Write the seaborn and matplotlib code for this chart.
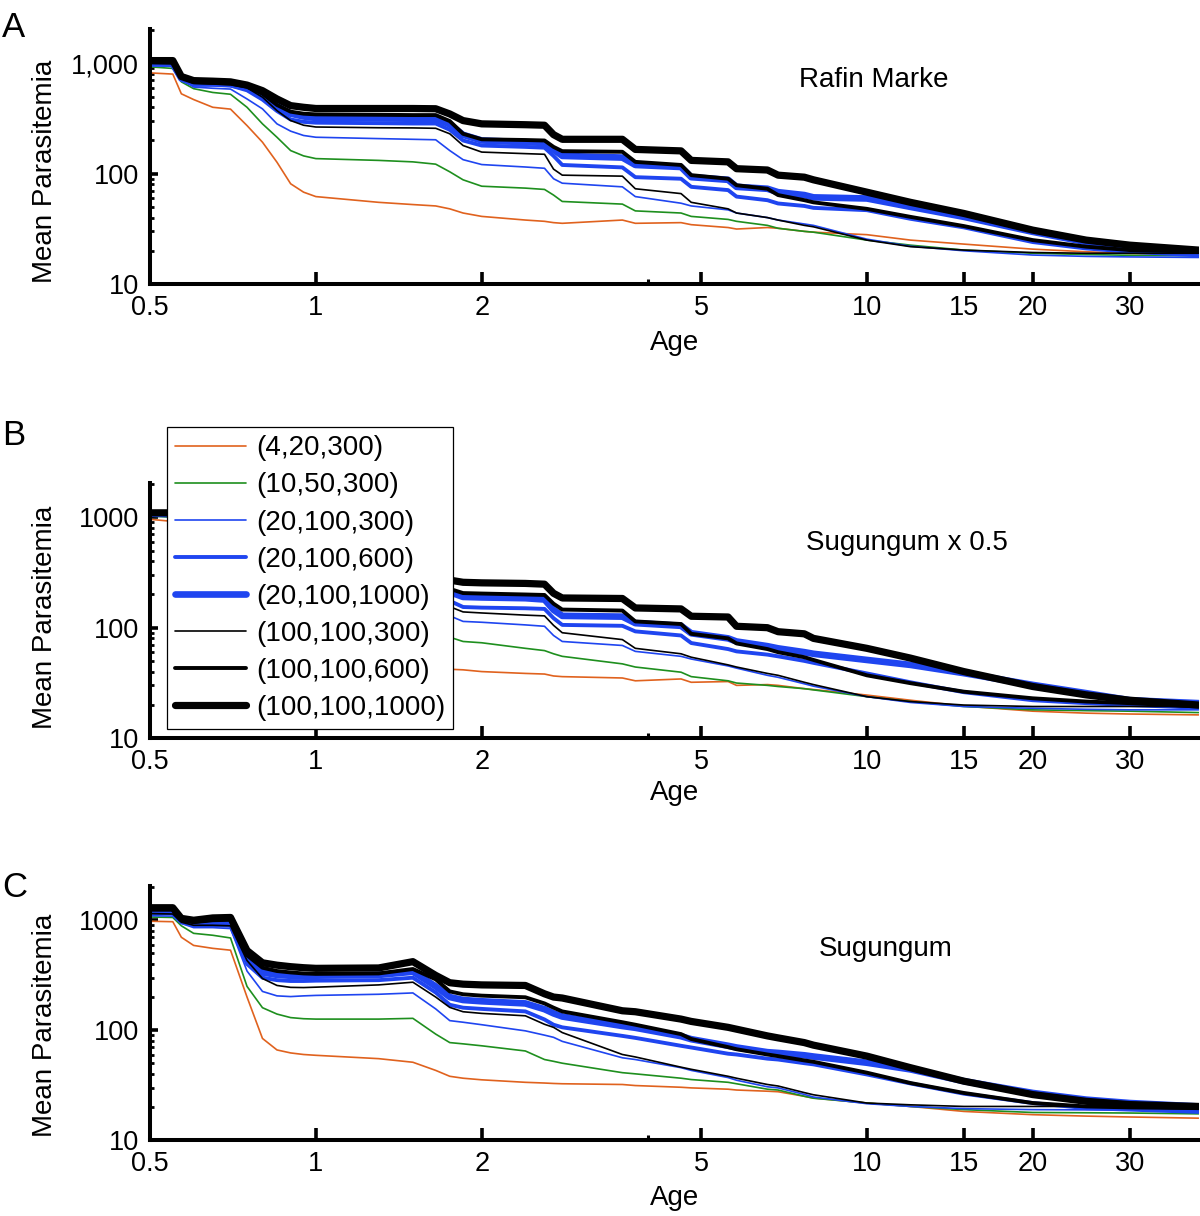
import matplotlib
matplotlib.use("Agg")
import matplotlib.pyplot as plt
from matplotlib.ticker import NullFormatter
import pandas as pd
import seaborn as sns

AGES = [0.50, 0.55, 0.57, 0.60, 0.65, 0.70, 0.75, 0.80, 0.85, 0.90,
        0.95, 1.0, 1.3, 1.5, 1.65, 1.75, 1.85, 2.0, 2.4, 2.6,
        2.7, 2.8, 3.6, 3.8, 4.6, 4.8, 5.6, 5.8, 6.6, 6.9,
        7.7, 8.0, 10, 12, 15, 20, 25, 30, 40]

SETTINGS = ["(4,20,300)", "(10,50,300)", "(20,100,300)", "(20,100,600)",
            "(20,100,1000)", "(100,100,300)", "(100,100,600)", "(100,100,1000)"]
COLORS = ["#e0621e", "#1e8f1e", "#1f45f0", "#1f45f0",
          "#1f45f0", "black", "black", "black"]
WIDTHS = [1.2, 1.2, 1.2, 2.8, 4.8, 1.2, 2.8, 5.2]

XTICKS = [0.5, 1, 2, 5, 10, 15, 20, 30]
XTICK_LABELS = ["0.5", "1", "2", "5", "10", "15", "20", "30"]
YTICKS = [10, 100, 1000]

# Panel A - Rafin Marke
A_4_20_300 = [820, 800, 530, 470, 400, 385, 273, 193, 127, 81,
              68, 62, 55, 52.5, 51, 48, 44, 41, 38, 37,
              36, 35.5, 38, 35.5, 36, 34.5, 32.5, 31.5, 32.5, 32,
              30, 29.5, 28, 25, 23, 20.7, 19.6, 18.9, 18.6]
A_10_50_300 = [930, 900, 680, 590, 545, 525, 400, 283, 214, 162,
               145, 137, 132, 128, 122, 104, 88, 77, 74, 72,
               64, 56, 53, 46, 44, 41, 38.5, 37, 34, 32,
               30, 29.5, 25, 22.5, 20.3, 19, 18.5, 18.2, 18]
A_20_100_300 = [970, 950, 720, 610, 595, 585, 476, 387, 283, 243,
                222, 214, 208, 205, 203, 162, 134, 121, 115, 112,
                90, 82, 76, 62, 54, 51, 47, 44, 40, 38,
                35, 34, 25.5, 22, 20, 18.3, 17.8, 17.6, 17.4]
A_20_100_600 = [980, 970, 720, 640, 640, 630, 570, 470, 370, 310,
                295, 290, 287, 285, 285, 250, 200, 180, 175, 172,
                145, 120, 114, 93, 90, 76, 71, 62, 57.5, 53.7,
                51, 49, 46.7, 39, 32.6, 24, 21, 19.6, 18.2]
A_20_100_1000 = [1000, 990, 730, 660, 660, 650, 600, 520, 410, 350,
                 330, 320, 317, 315, 315, 280, 225, 200, 193, 190,
                 165, 145, 140, 120, 115, 93, 88, 76, 73, 68,
                 64, 61, 59.6, 50, 40.6, 29.7, 24, 21.5, 19.6]
A_100_100_300 = [1000, 990, 740, 660, 650, 640, 600, 494, 373, 303,
                 275, 265, 261, 260, 258, 230, 180, 157, 152, 150,
                 110, 97, 95, 73, 66, 55, 48, 44, 40, 38,
                 34, 33, 25, 21.8, 20.3, 19.3, 19, 19, 19]
A_100_100_600 = [1050, 1040, 750, 680, 680, 670, 620, 530, 420, 365,
                 350, 345, 342, 340, 340, 300, 230, 205, 202, 200,
                 175, 160, 158, 128, 120, 97, 90, 78.6, 73, 64,
                 57.5, 55, 48, 40.6, 33.5, 25, 21.8, 20.3, 19.6]
A_100_100_1000 = [1060, 1060, 760, 698, 690, 680, 636, 566, 476, 414,
                  400, 390, 390, 390, 388, 348, 303, 283, 278, 275,
                  226, 205, 205, 166, 161, 132, 128, 111, 108, 97,
                  93, 88, 68, 55, 43.6, 30.8, 25, 22.5, 20.3]

# Panel B - Sugungum x 0.5
B_4_20_300 = [960, 920, 600, 500, 480, 470, 200, 70, 52, 48,
              47, 46, 45, 44, 43, 42, 41.5, 40, 38.5, 38,
              36.5, 36, 35, 33, 34.3, 32, 32.5, 30, 30.5, 30,
              28, 27.5, 24.5, 22, 19.5, 17.5, 16.8, 16.5, 16.2]
B_10_50_300 = [1030, 1000, 780, 720, 730, 720, 380, 170, 120, 105,
               100, 98, 96, 98, 90, 82, 75, 73, 65, 62,
               58, 55, 47, 44, 39.5, 36, 33, 31.5, 30, 29.3,
               28, 27.3, 23.7, 21.4, 19.3, 18, 17.7, 17.5, 17]
B_20_100_300 = [1060, 1030, 820, 770, 780, 770, 450, 250, 190, 170,
                162, 158, 155, 158, 148, 128, 114, 112, 106, 103,
                85, 75, 69, 61, 55, 52, 45, 43, 37, 35.5,
                31, 29.5, 23.7, 21, 19.3, 18.6, 18.2, 18, 18]
B_20_100_600 = [1070, 1050, 840, 790, 800, 790, 500, 320, 260, 235,
                225, 220, 215, 218, 205, 175, 154, 152, 150, 148,
                122, 106, 104, 92.6, 85, 72.6, 64, 61, 57, 55,
                50, 48, 38.5, 32, 26, 22, 20.7, 19.9, 18.8]
B_20_100_1000 = [1080, 1070, 860, 810, 820, 810, 540, 360, 300, 270,
                 260, 255, 250, 252, 240, 210, 190, 188, 185, 180,
                 145, 128, 126, 110, 104, 89, 80, 75, 68, 65,
                 60, 58, 51, 46, 38.7, 30.3, 25.5, 22, 20.7]
B_100_100_300 = [1070, 1060, 850, 800, 810, 800, 500, 300, 240, 210,
                 200, 195, 190, 195, 180, 155, 139, 136, 130, 128,
                 105, 90, 78, 65, 58, 54, 46, 44, 38.5, 37,
                 32, 30.5, 23.7, 21.4, 19.9, 19.3, 19.3, 19.3, 19.3]
B_100_100_600 = [1090, 1090, 880, 830, 840, 830, 560, 380, 320, 290,
                 280, 275, 270, 272, 260, 225, 206, 204, 200, 198,
                 165, 146, 143, 114, 108, 88, 80, 72, 64, 60,
                 54, 51, 37, 31.4, 26.3, 22.9, 21.4, 20.7, 19.3]
B_100_100_1000 = [1100, 1100, 900, 850, 860, 850, 600, 420, 360, 330,
                  320, 315, 310, 315, 300, 270, 258, 255, 252, 248,
                  205, 186, 184, 151, 148, 127, 125, 103, 100, 92,
                  88, 80, 65, 53, 40, 29.3, 24.6, 22, 19.9]

# Panel C - Sugungum
C_4_20_300 = [980, 970, 700, 590, 555, 534, 200, 84, 66, 62,
              60, 59, 55, 51, 43, 38, 36.5, 35.3, 33.5, 33,
              32.7, 32.5, 32, 31.3, 30.2, 29.8, 29, 28.5, 27.8, 27.5,
              25, 24.1, 21.7, 20.2, 18.2, 17, 16.5, 16.2, 15.8]
C_10_50_300 = [1070, 1060, 890, 760, 730, 690, 250, 160, 140, 130,
               127, 126, 126, 128, 92, 77, 75, 72, 64.6, 54,
               52, 50, 41, 40, 36.5, 35.5, 33.5, 32.5, 29, 28.5,
               25, 24, 21.7, 20.2, 18.9, 17.8, 17.7, 17.6, 17.3]
C_20_100_300 = [1100, 1090, 935, 857, 857, 840, 345, 225, 205, 202,
                205, 207, 212, 218, 156, 122, 118, 112, 98.5, 90,
                86, 79, 56, 54, 45.5, 43, 37, 35, 30.5, 29.8,
                26, 24.6, 21.4, 20.2, 19.3, 18.9, 18.8, 18.7, 18.6]
C_20_100_600 = [1180, 1170, 960, 900, 900, 890, 400, 300, 285, 280,
                280, 282, 285, 300, 220, 170, 160, 156, 148, 125,
                112, 106, 88.6, 85, 72, 69.5, 61, 60, 55, 54,
                50, 48.8, 39.5, 32.7, 26.4, 21.7, 19.5, 18.9, 18]
C_20_100_1000 = [1200, 1190, 1000, 960, 980, 980, 440, 335, 318, 312,
                 312, 313, 318, 340, 250, 200, 188, 183, 175, 155,
                 142, 133, 109, 105, 88, 82.7, 72, 69.5, 63, 62,
                 59, 57.5, 50.5, 43.9, 34.3, 26.8, 23.3, 21.7, 20.2]
C_100_100_300 = [1150, 1140, 960, 900, 900, 890, 430, 295, 255, 245,
                 244, 246, 258, 273, 200, 161, 147, 142, 135, 113,
                 106, 95, 60, 57, 46, 44, 38, 36.5, 32, 31,
                 27, 25.8, 21.7, 20.9, 20.2, 20.2, 20.2, 20.2, 20.2]
C_100_100_600 = [1250, 1250, 1000, 960, 1000, 1010, 480, 370, 345, 335,
                 328, 325, 328, 360, 290, 225, 212, 206, 199, 175,
                 160, 148, 118, 112, 92, 83, 70, 67, 60, 58,
                 53, 51.5, 41, 33, 26.8, 21.7, 20.2, 19.8, 19.5]
C_100_100_1000 = [1300, 1300, 1040, 1000, 1050, 1060, 530, 410, 390, 378,
                  370, 365, 368, 420, 315, 270, 262, 258, 255, 214,
                  200, 196, 150, 147, 126, 120, 106, 102, 88.6, 85,
                  77, 73, 58, 45.5, 34.3, 25.9, 22.5, 21, 20.2]


def panel_frame(series):
    parts = []
    for label, values in zip(SETTINGS, series):
        parts.append(pd.DataFrame({"Age": AGES, "Mean Parasitemia": values,
                                   "Setting": label}))
    return pd.concat(parts, ignore_index=True)


panels = [
    {"letter": "A", "title": "Rafin Marke", "top": 29, "bottom": 284,
     "ylabels": ["10", "100", "1,000"], "ylab_y": 0.44, "xlab_y": -0.18,
     "note_xy": (874, 87), "letter_y": 37,
     "series": [A_4_20_300, A_10_50_300, A_20_100_300, A_20_100_600,
                A_20_100_1000, A_100_100_300, A_100_100_600, A_100_100_1000]},
    {"letter": "B", "title": "Sugungum x 0.5", "top": 483, "bottom": 738,
     "ylabels": ["10", "100", "1000"], "ylab_y": 0.475, "xlab_y": -0.165,
     "note_xy": (907, 550), "letter_y": 445,
     "series": [B_4_20_300, B_10_50_300, B_20_100_300, B_20_100_600,
                B_20_100_1000, B_100_100_300, B_100_100_600, B_100_100_1000]},
    {"letter": "C", "title": "Sugungum", "top": 886, "bottom": 1140,
     "ylabels": ["10", "100", "1000"], "ylab_y": 0.453, "xlab_y": -0.177,
     "note_xy": (886, 956), "letter_y": 897,
     "series": [C_4_20_300, C_10_50_300, C_20_100_300, C_20_100_600,
                C_20_100_1000, C_100_100_300, C_100_100_600, C_100_100_1000]},
]

sns.set_style("white")
plt.rcParams["font.family"] = ["Liberation Sans", "DejaVu Sans"]
plt.rcParams["text.color"] = "black"
plt.rcParams["axes.labelcolor"] = "black"

W, H = 1200, 1216
fig = plt.figure(figsize=(W / 100, H / 100), dpi=100)

x_left, x_right = 150, 1198.6
legend_handles = None

for p in panels:
    ax = fig.add_axes([x_left / W, 1 - p["bottom"] / H,
                       (x_right - x_left) / W, (p["bottom"] - p["top"]) / H])
    df = panel_frame(p["series"])
    for label, color, lw in zip(SETTINGS, COLORS, WIDTHS):
        sub = df[df["Setting"] == label]
        sns.lineplot(data=sub, x="Age", y="Mean Parasitemia", ax=ax,
                     color=color, linewidth=lw, estimator=None,
                     legend=False, label=label)
    ax.set_xscale("log")
    ax.set_yscale("log")
    ax.set_xlim(0.5, 40)
    ax.set_ylim(10, 2050)

    ax.set_xticks(XTICKS)
    ax.set_xticklabels(XTICK_LABELS)
    ax.set_xticks([4], minor=True)
    ax.xaxis.set_minor_formatter(NullFormatter())
    ax.set_yticks(YTICKS)
    ax.set_yticklabels(p["ylabels"])
    ax.set_yticks([20, 30, 40, 50, 60, 70, 80, 90,
                   200, 300, 400, 500, 600, 700, 800, 900, 2000], minor=True)
    ax.yaxis.set_minor_formatter(NullFormatter())

    ax.tick_params(axis="both", which="both", direction="in", colors="black",
                   labelsize=19.5, bottom=True, left=True, top=False,
                   right=False)
    ax.tick_params(axis="x", which="major", length=9, width=2.6, pad=8)
    ax.tick_params(axis="x", which="minor", length=3.5, width=2.2)
    ax.tick_params(axis="y", which="major", length=5.5, width=2.6, pad=8)
    ax.tick_params(axis="y", which="minor", length=2.8, width=2.0)

    for side in ["top", "right"]:
        ax.spines[side].set_visible(False)
    for side in ["left", "bottom"]:
        ax.spines[side].set_linewidth(2.9)
        ax.spines[side].set_color("black")

    ax.set_xlabel("Age", fontsize=20, va="top", color="black")
    ax.xaxis.set_label_coords(0.5, p["xlab_y"])
    ax.set_ylabel("Mean Parasitemia", fontsize=20, color="black")
    ax.yaxis.set_label_coords(-0.088, p["ylab_y"])

    nx, ny = p["note_xy"]
    fig.text(nx / W, 1 - ny / H, p["title"], fontsize=20, ha="center",
             va="baseline", color="black")
    fig.text(2 / W, 1 - p["letter_y"] / H, p["letter"], fontsize=25,
             ha="left", va="baseline", color="black")

    if p["letter"] == "B":
        legend_handles = list(ax.lines[:len(SETTINGS)])
    ax.grid(False)

leg = fig.legend(legend_handles, SETTINGS, loc="upper left",
                 bbox_to_anchor=(167 / W, 1 - 427 / H),
                 bbox_transform=fig.transFigure, borderaxespad=0,
                 frameon=True, fancybox=False, framealpha=1,
                 edgecolor="black", fontsize=20, handlelength=2.55,
                 handletextpad=0.35, borderpad=0.3, labelspacing=0.40)
leg.get_frame().set_linewidth(0.9)
for t in leg.get_texts():
    t.set_color("black")

fig.savefig("out.png", dpi=100)
